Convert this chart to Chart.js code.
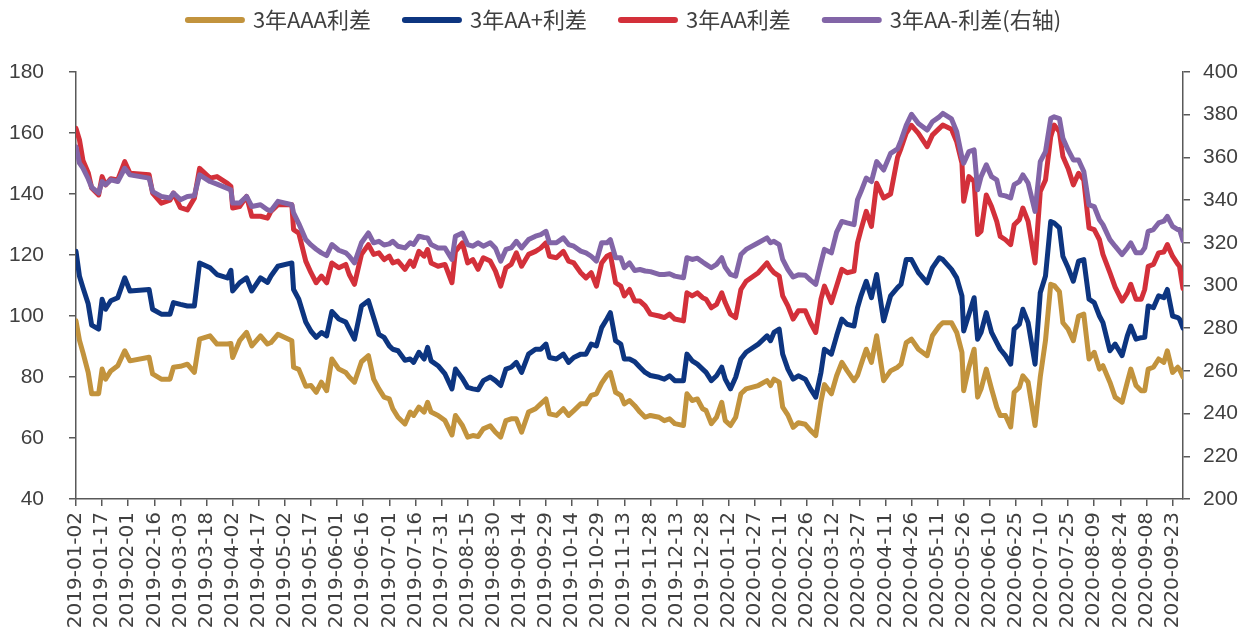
<!DOCTYPE html>
<html>
<head>
<meta charset="utf-8">
<script src="https://cdn.jsdelivr.net/npm/chart.js@4.4.0/dist/chart.umd.min.js"></script>
<style>
html,body{margin:0;padding:0;background:#fff}
</style>
</head>
<body>
<canvas id="c" width="1249" height="637"></canvas>
<script>
// trading days sampled across the period
const dates=['2019-01-02','2019-01-04','2019-01-06','2019-01-09','2019-01-11','2019-01-15','2019-01-17','2019-01-19','2019-01-22','2019-01-26','2019-01-30','2019-02-02','2019-02-13','2019-02-15','2019-02-20','2019-02-25','2019-02-27','2019-03-03','2019-03-07','2019-03-11','2019-03-14','2019-03-20','2019-03-24','2019-03-30','2019-04-01','2019-04-02','2019-04-06','2019-04-10','2019-04-13','2019-04-18',
'2019-04-22','2019-04-24','2019-04-28','2019-05-06','2019-05-07','2019-05-10','2019-05-14','2019-05-17','2019-05-20','2019-05-23','2019-05-26','2019-05-29','2019-06-02','2019-06-06','2019-06-08','2019-06-11','2019-06-15','2019-06-19','2019-06-22','2019-06-25','2019-06-28','2019-07-01','2019-07-03','2019-07-06','2019-07-10','2019-07-13','2019-07-15','2019-07-18','2019-07-21','2019-07-23','2019-07-25','2019-07-29','2019-08-02',
'2019-08-06','2019-08-08','2019-08-12','2019-08-15','2019-08-18','2019-08-21','2019-08-24','2019-08-28','2019-08-31','2019-09-03','2019-09-06','2019-09-09','2019-09-12','2019-09-15','2019-09-19','2019-09-23','2019-09-26','2019-09-29','2019-10-01','2019-10-05','2019-10-09','2019-10-12','2019-10-15','2019-10-19','2019-10-22','2019-10-25','2019-10-28','2019-10-31','2019-11-03','2019-11-05','2019-11-08','2019-11-11','2019-11-13','2019-11-16',
'2019-11-19','2019-11-22','2019-11-25','2019-11-28','2019-12-03','2019-12-06','2019-12-09','2019-12-12','2019-12-17','2019-12-19','2019-12-22','2019-12-25','2019-12-28','2019-12-30','2020-01-02','2020-01-05','2020-01-08','2020-01-10','2020-01-13','2020-01-16','2020-01-19','2020-01-22','2020-01-29','2020-02-03','2020-02-05','2020-02-07','2020-02-10','2020-02-12','2020-02-15','2020-02-18','2020-02-21','2020-02-25','2020-02-28','2020-03-02',
'2020-03-05','2020-03-07','2020-03-11','2020-03-14','2020-03-17','2020-03-20','2020-03-24','2020-03-26','2020-03-28','2020-03-31','2020-04-03','2020-04-06','2020-04-10','2020-04-14','2020-04-18','2020-04-20','2020-04-23','2020-04-26','2020-04-30','2020-05-05','2020-05-08','2020-05-12','2020-05-14','2020-05-19','2020-05-22','2020-05-25','2020-05-26','2020-05-29','2020-06-01','2020-06-03','2020-06-05','2020-06-08','2020-06-11','2020-06-14','2020-06-16',
'2020-06-19','2020-06-22','2020-06-24','2020-06-27','2020-06-29','2020-07-02','2020-07-06','2020-07-09','2020-07-12','2020-07-15','2020-07-17','2020-07-20','2020-07-22','2020-07-25','2020-07-28','2020-07-31','2020-08-03','2020-08-06','2020-08-09','2020-08-12','2020-08-14','2020-08-18','2020-08-21','2020-08-25','2020-08-28','2020-08-30','2020-09-02','2020-09-05','2020-09-07','2020-09-09','2020-09-12','2020-09-15','2020-09-18','2020-09-20','2020-09-23','2020-09-26','2020-09-27','2020-09-29']

const aaa=[98.4,92,88,81.5,74.5,74.5,82.6,79.3,82,83.7,88.6,85.3,86.5,81,79.3,79.3,83.2,83.5,84.2,81.5,92.4,93.5,90.8,90.8,91,86.4,91.9,94.6,90.2,93.5,
90.8,91.3,94,91.9,83.2,82.5,77,77.2,75,78.3,75.5,85.9,82.6,81.5,80,78.3,85,87,79.3,76.1,73.4,72.8,69.6,66.8,64.6,68.5,67.4,70.1,68.5,71.7,68.5,67.4,65.7,
61,67.4,64.1,60.3,60.8,60.5,63,64,61.9,60.3,65.7,66.3,66.3,61.9,68.5,69.6,71.2,72.8,67.9,67.4,69.6,67.4,69,71.2,71.2,74,74.5,78,80.5,81.5,75,74,71.2,72.3,
70.6,68.5,66.8,67.4,66.8,65.7,66.3,64.7,64.1,74.5,72.3,72.8,69.6,69,64.7,66.8,71.7,65.7,64.1,66.8,74.5,76.1,77.2,78.8,77.2,79.3,78.3,70.1,67.5,63.5,65,64.5,62.5,60.8,
72,77.5,74.5,80.4,84.8,82.1,78.8,80.5,84,89.1,84.8,93.5,78.8,82,83.2,84.2,91.3,92.4,89.1,87,93.5,96.7,97.8,97.8,94.6,88.1,75.5,83.2,89.1,73.4,76.1,82.6,76.1,70.1,67.4,
67.4,63.6,75,76.6,80.4,78.3,64.1,80,92,110.4,110,108,97.8,95.7,91.9,100,100.6,85.9,88.1,82.6,83.7,78.3,73.4,71.7,78.3,82.6,77.2,75.5,75.5,82.6,83.2,85.9,84.8,88.6,81.5,83.2,82.5,80]

const aaPlus=[121.2,113,109.3,104,97,95.7,105.5,102.2,105,106,112.5,108.2,108.7,102.2,100.6,100.6,104.4,103.8,103.3,103.3,117.4,115.8,113.6,112.5,115,108.2,110.9,112.5,108.2,112.5,
111,113.1,116.3,117.4,108.7,105.5,98,95,93,94.6,93.5,101.5,99,98,95.7,92.4,103.3,105,99.5,94,93,90.2,89.1,88.6,85.5,85.9,84.8,88.1,85.9,89.7,85.3,83.7,81,
76.1,82.6,79.5,76.6,76.1,75.8,78.8,80,78.8,77.2,82.6,83.2,84.8,81.5,87.5,89.1,89.1,90.8,86.4,85.9,87.5,84.8,86.4,87.5,87.5,90.8,90.2,96.2,99,101.1,91.9,90.8,85.9,85.9,
85,83.2,81.5,80.5,79.9,79.3,80.4,78.8,78.8,87.5,85.3,84.2,82.6,81.5,78.8,80.4,83.2,79.3,76.1,79.9,85.9,88.1,90.8,93.5,91.9,94.6,95.7,87.5,82.6,79.3,80.4,79.3,76.1,73.4,
81.5,89.1,87.5,93.5,99,97.3,96.7,102.7,106.6,111.4,106,113.6,98.4,106.6,109.3,110.4,118.5,118.5,114.2,110.9,115.8,119.1,118.5,115.3,112.5,106.6,95.1,100.6,106,92.4,94.6,101.1,94.6,91.3,89.1,
87,84.2,95.7,97.3,102.2,97.8,84.2,107.6,113.1,131,130.5,128.9,119.6,115.8,111.4,118,118.5,105.5,104.4,100,97.8,88.6,90.8,87,93.5,96.7,92.4,92.9,93,103.3,102.7,106.6,106,108.7,100,99.5,99,96]

const aa=[161.5,157.7,151,147,142,139.7,145.7,143,145,144.6,150.6,146.8,146.3,140.3,137,138,140.3,135.5,134.8,138.6,148.4,145.2,145.7,143.5,142.5,135.4,135.9,139.2,132.7,132.7,
132.1,134.3,136.5,136.5,128.3,127.2,118,114.2,110.9,113.1,110.9,117.4,115.8,116.9,113.6,110.4,120.2,123.4,120.2,120.7,118.5,119.6,117.4,118,115.3,118,116.3,121.2,119.6,121.8,117.4,116.3,116.9,
110.9,121.2,124,117.4,118.5,115.3,119.1,118,114.7,109.8,115.8,116.9,120.7,116.3,120.2,121.2,122.3,124,119.6,119.1,121.2,118,117.4,114.2,112.5,114.2,109.8,117.4,119.6,120.2,110.9,109.8,106.6,108.7,
104.9,104.9,103.3,100.6,100,99.5,100.6,99,98.4,107.6,106.6,107.6,106,105.5,102.7,103.8,107.6,104.4,100.6,99.5,108.7,111.4,114.2,117.4,115.5,114.2,113.1,106.6,103.3,99,101.7,101.7,97.8,94.6,
105.5,109.8,104.4,109.8,115.3,114.2,114.7,124,128.3,134.3,129.4,143.5,138.7,140,152,155,160,162.5,159.9,155.5,159.3,161.5,162.6,161.2,157.1,150.1,137.6,145.7,144.1,126.7,127.8,139.7,135.9,131,126.1,
125,123.4,129.9,131.6,135.4,131,117.4,140.8,144.6,158.8,162.6,160.4,152.3,148.4,143,146.8,144.6,128.9,128.3,125,120.2,114.2,109.5,104.9,107.6,110.4,105.5,105.5,108.7,116.3,116.9,120.7,121,123.4,119.6,117,116.3,109]

const aaMinus=[365,357.3,355,350,346,343.3,348.7,347.2,349.5,348.7,354.9,351.8,350.3,344,341.7,341,343.3,340.2,341.7,342,351.8,348.7,347.5,345.5,344.8,338.6,338.6,341.7,337,337.8,
335.5,335,339.4,337.8,334,329,321.5,319,317,315.3,314,319.2,316.5,315.3,313.7,310.6,320,324.6,320,320.7,319,319.5,320.7,318.4,317.6,320,319.2,323.1,322.5,322.3,319.2,317.6,317.6,
312.2,323.1,324.6,319.2,318.4,320,318.4,320,317.5,311.4,316.9,317.6,320.7,317.6,321.5,323.1,323.8,325.4,320,320,322.3,319.2,318.4,316.1,315.3,313.7,311.4,320,320,321.5,313,313,308.3,310.6,
307,307.5,306.8,306.5,305.2,305.2,305.5,304.4,303.6,313,312.2,312.8,311,309.9,308.3,309.9,313,308.5,305.2,304.4,314.5,316.9,320,322.3,320,320.7,319.2,312.2,307.5,304,305,304.8,302.5,300.5,
310.6,316.9,315.3,325,330,329.3,328.5,340.2,344,350.3,348.7,358,354.1,361.9,364,368,375,380.2,375.9,372.8,376.7,379,380.6,378,372,360,357.3,362.7,363.5,344.8,351,356.5,351,349.5,342.5,
342,341,347.2,348.7,351.8,348,334.7,358,362.7,378.2,379,378.2,368.9,363.5,358.8,358.8,353.4,337.8,337,330.8,328.5,321.5,318.4,314.5,317.6,320,315.3,315.3,317.6,325.4,326.2,329.3,330.1,332.4,327.7,326.2,326.2,321]

const names=['3年AAA利差','3年AA+利差','3年AA利差','3年AA-利差(右轴)']
const colors=['#C2933D','#0D3580','#D3303A','#8265A7']

const base=Date.UTC(2019,0,2)
const dayOf=s=>(Date.parse(s+'T00:00:00Z')-base)/864e5
const fmtDay=v=>new Date(base+v*864e5).toISOString().slice(0,10)
const pts=arr=>dates.map((d,i)=>({x:dayOf(d),y:arr[i]}))

const axisColor='#595959'
const txtColor='#404040'

function line(i,arr,axis){
  return {label:names[i],data:pts(arr),yAxisID:axis,borderColor:colors[i],backgroundColor:colors[i],
    borderWidth:5,pointRadius:0,tension:0,borderJoinStyle:'round',borderCapStyle:'round',order:4-i}
}

// extra room under the legend before the plot area
const legendGap={
  id:'legendGap',
  beforeInit(chart){
    const fit=chart.legend.fit
    chart.legend.fit=function(){fit.call(this);this.height+=31}
  }
}

new Chart(document.getElementById('c'),{
  type:'line',
  data:{datasets:[line(0,aaa,'y'),line(1,aaPlus,'y'),line(2,aa,'y'),line(3,aaMinus,'y2')]},
  plugins:[legendGap],
  options:{
    responsive:false,animation:false,
    layout:{padding:{top:-25,left:0,right:0,bottom:0}},
    plugins:{
      tooltip:{enabled:false},
      legend:{
        position:'top',
        labels:{
          usePointStyle:true,pointStyle:'line',pointStyleWidth:54,padding:34,
          color:txtColor,font:{family:'"Noto Sans CJK SC"',size:22},
          sort:(a,b)=>a.datasetIndex-b.datasetIndex,
          generateLabels(chart){
            const items=Chart.defaults.plugins.legend.labels.generateLabels(chart)
            items.forEach(it=>{it.lineWidth=6;it.lineCap='round'})
            return items
          }
        }
      }
    },
    scales:{
      x:{
        type:'linear',min:0,max:636,
        afterBuildTicks:s=>{
          const t=[]
          for(let v=0;v<=s.max;v+=15)t.push({value:v})
          s.ticks=t
        },
        afterFit:s=>{s.height=138},
        ticks:{autoSkip:false,minRotation:90,maxRotation:90,padding:6,color:txtColor,
          font:{family:'"DejaVu Sans"',size:20},callback:v=>fmtDay(v)},
        grid:{drawOnChartArea:false,tickLength:7,color:axisColor,lineWidth:1.5},
        border:{color:axisColor,width:1.5}
      },
      y:{
        position:'left',min:40,max:180,
        afterFit:s=>{s.width=76},
        ticks:{stepSize:20,padding:25,color:txtColor,font:{family:'"Liberation Sans"',size:21}},
        grid:{drawOnChartArea:false,tickLength:7,color:axisColor,lineWidth:1.5},
        border:{color:axisColor,width:1.5}
      },
      y2:{
        position:'right',min:200,max:400,
        afterFit:s=>{s.width=66},
        ticks:{stepSize:20,padding:13,color:txtColor,font:{family:'"Liberation Sans"',size:21}},
        grid:{drawOnChartArea:false,tickLength:7,color:axisColor,lineWidth:1.5},
        border:{color:axisColor,width:1.5}
      }
    }
  }
})
</script>
</body>
</html>
